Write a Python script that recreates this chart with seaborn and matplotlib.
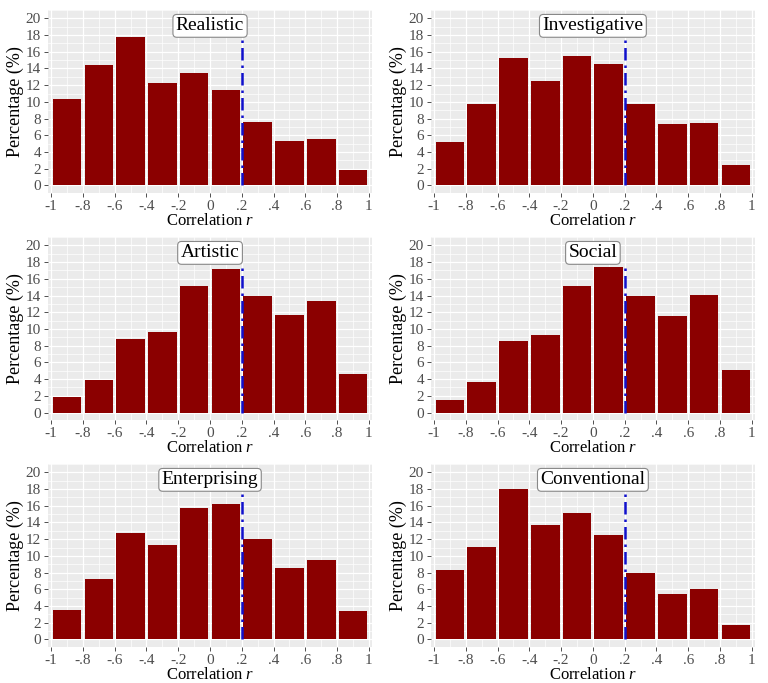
import numpy as np
import pandas as pd
import matplotlib
matplotlib.use("Agg")
import matplotlib.pyplot as plt
from matplotlib.ticker import MultipleLocator, FixedLocator
import seaborn as sns

sns.set_theme(style="darkgrid")
plt.rcParams['font.family'] = ['Liberation Serif', 'DejaVu Serif']
plt.rcParams['mathtext.fontset'] = 'custom'
plt.rcParams['mathtext.it'] = 'Liberation Serif:italic'
plt.rcParams['mathtext.rm'] = 'Liberation Serif'

bin_edges = [-1.0, -0.8, -0.6, -0.4, -0.2, 0.0, 0.2, 0.4, 0.6, 0.8, 1.0]
tick_labels = ["-1", "-.8", "-.6", "-.4", "-.2", "0", ".2", ".4", ".6", ".8", "1"]
panel_titles = ["Realistic", "Investigative", "Artistic", "Social", "Enterprising", "Conventional"]

realistic = [10.4, 14.4, 17.8, 12.3, 13.5, 11.4, 7.6, 5.3, 5.6, 1.8]
investigative = [5.2, 9.8, 15.3, 12.5, 15.5, 14.5, 9.8, 7.4, 7.5, 2.5]
artistic = [1.8, 3.9, 8.8, 9.6, 15.1, 17.2, 13.9, 11.7, 13.4, 4.6]
social = [1.5, 3.6, 8.5, 9.3, 15.1, 17.4, 13.9, 11.5, 14.1, 5.1]
enterprising = [3.5, 7.2, 12.7, 11.3, 15.7, 16.2, 12.0, 8.6, 9.5, 3.4]
conventional = [8.3, 11.1, 18.0, 13.7, 15.1, 12.5, 7.9, 5.5, 6.0, 1.7]
series = [realistic, investigative, artistic, social, enterprising, conventional]

ref_line_x = 0.2
ref_line_top = 17.5

fig = plt.figure(figsize=(7.68, 6.83), dpi=100)
fig.patch.set_facecolor("white")

lefts = [0.0625, 0.561]
bottoms = [0.7174, 0.385, 0.0527]
w, h = 0.422, 0.268

edges = np.array(bin_edges)
centers = (edges[:-1] + edges[1:]) / 2

for i, (title, vals) in enumerate(zip(panel_titles, series)):
    row, col = divmod(i, 2)
    ax = fig.add_axes([lefts[col], bottoms[row], w, h])
    ax.set_facecolor("#EBEBEB")
    df = pd.DataFrame({"r": centers, "pct": vals})
    sns.histplot(data=df, x="r", weights="pct", bins=list(bin_edges), shrink=0.9,
                 color="#8B0000", alpha=1, edgecolor="none", linewidth=0, ax=ax)
    ax.set_xlim(-1.02, 1.02)
    ax.set_ylim(-0.9, 21)
    ax.xaxis.set_major_locator(FixedLocator(bin_edges))
    ax.set_xticklabels(tick_labels)
    ax.xaxis.set_minor_locator(MultipleLocator(0.1))
    ax.yaxis.set_major_locator(MultipleLocator(2))
    ax.yaxis.set_minor_locator(MultipleLocator(1))
    ax.grid(which="major", color="white", linewidth=0.9)
    ax.grid(which="minor", color="white", linewidth=0.5)
    ax.set_axisbelow(True)
    for s in ax.spines.values():
        s.set_visible(False)
    ax.tick_params(axis="both", which="major", length=3, width=0.6, color="#333333",
                   labelsize=11, labelcolor="#4D4D4D", pad=2, bottom=True, left=True)
    ax.tick_params(axis="both", which="minor", length=0)
    ax.set_xlabel("Correlation $\\it{r}$", fontsize=12, color="black", labelpad=0)
    ax.set_ylabel("Percentage (%)", fontsize=13, color="black", labelpad=1)
    ax.vlines(ref_line_x, 0, ref_line_top, colors="#1010CC", linestyles=[(0, (5, 2, 1, 2))],
              linewidth=1.8, zorder=5)
    ax.text(0.0, 19.1, title, ha="center", va="center", fontsize=14, color="black",
            bbox=dict(boxstyle="round,pad=0.15,rounding_size=0.2", facecolor="white",
                      edgecolor="#888888", linewidth=0.8), zorder=6)

fig.savefig("out.png", dpi=100, facecolor="white")
